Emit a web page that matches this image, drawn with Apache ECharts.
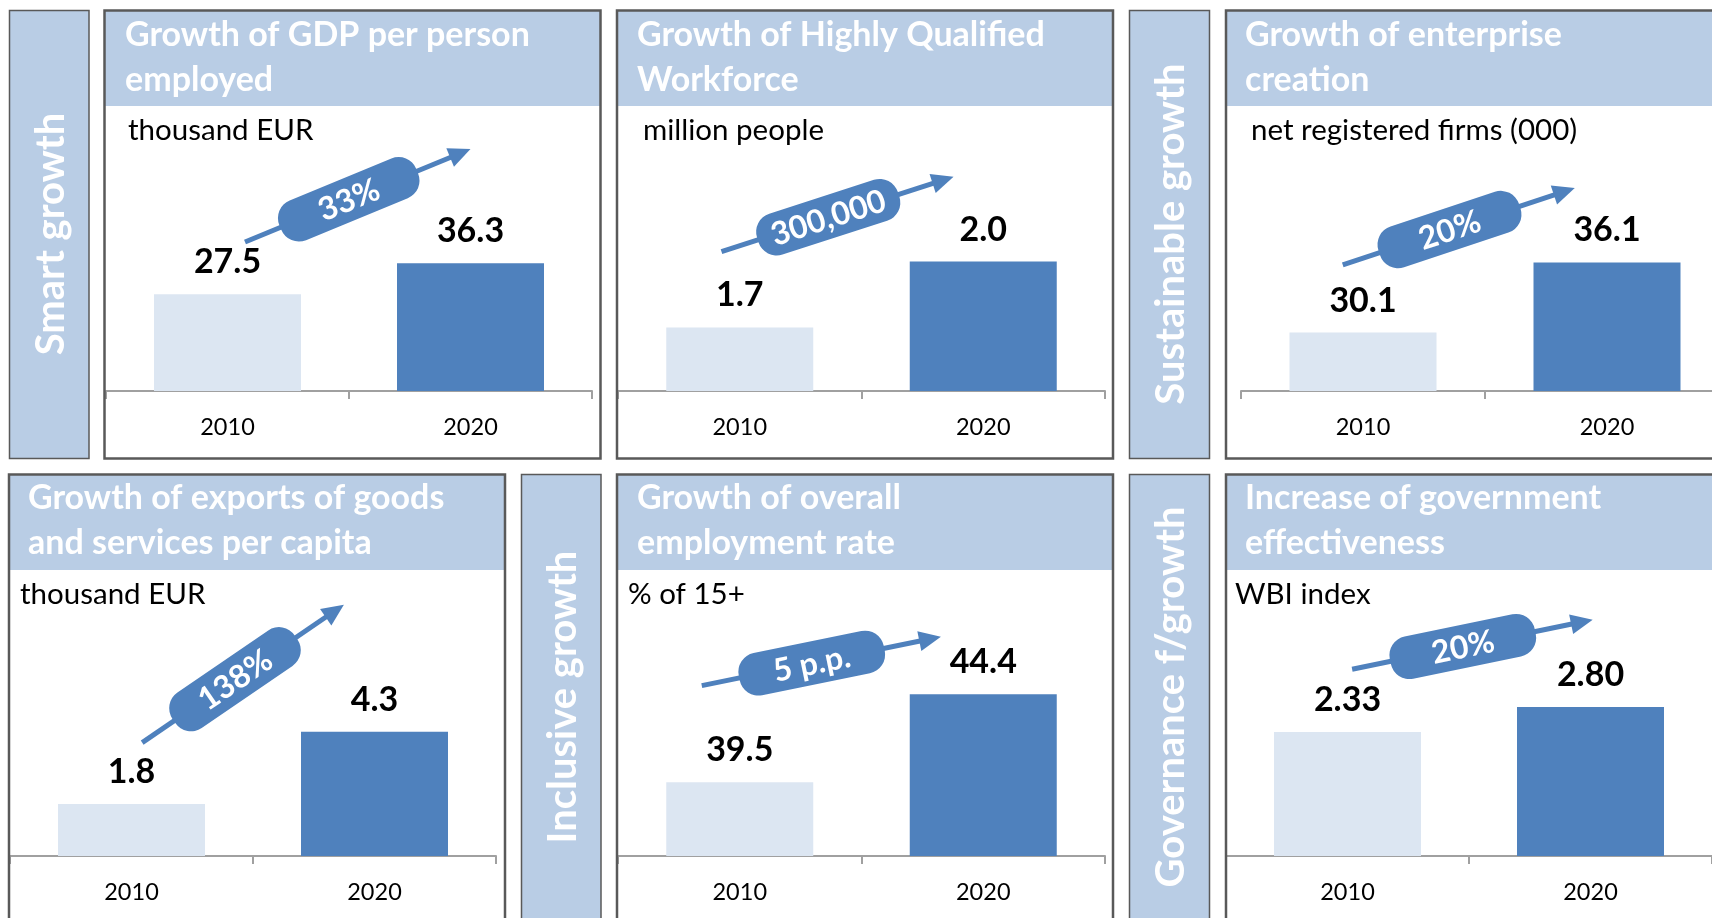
<!DOCTYPE html>
<html>
<head>
<meta charset="utf-8">
<script src="https://cdn.jsdelivr.net/npm/echarts@6/dist/echarts.min.js"></script>
<style>
  html, body { margin: 0; padding: 0; background: #ffffff; overflow: hidden; }
  #chart { width: 1732px; height: 918px; }
</style>
</head>
<body>
<div id="chart"></div>
<script>
// ---------------- data ----------------
const categories = ['2010', '2020'];
const pillars = ['Smart growth', 'Sustainable growth', 'Inclusive growth', 'Governance f/growth'];
const titles = [
  'Growth of GDP per person\nemployed',
  'Growth of Highly Qualified\nWorkforce',
  'Growth of enterprise\ncreation',
  'Growth of exports of goods\nand services per capita',
  'Growth of overall\nemployment rate',
  'Increase of government\neffectiveness'
];
const units = ['thousand EUR', 'million people', 'net registered firms (000)', 'thousand EUR', '% of 15+', 'WBI index'];
const values2010 = [27.5, 1.7, 30.1, 1.8, 39.5, 2.33];
const values2020 = [36.3, 2.0, 36.1, 4.3, 44.4, 2.80];
const decimals = [1, 1, 1, 1, 1, 2];
const growthLabels = ['33%', '300,000', '20%', '138%', '5 p.p.', '20%'];

// ---------------- layout ----------------
const FONT = 'Lato, "Open Sans", sans-serif';
const BAND = '#B9CDE5';
const BORDER = '#595959';
const LIGHT = '#DCE6F2';
const DARK = '#4F81BD';
const AXIS = '#A0A0A0';

const rows = [
  { boxTop: 10.5, boxH: 448, bandBottom: 106, titleY: 13, unitY: 130, gridTop: 141, gridH: 250, sideCY: 234 },
  { boxTop: 474.5, boxH: 470, bandBottom: 570, titleY: 476, unitY: 594, gridTop: 590, gridH: 266, sideCY: 697 }
];
const panelLayout = [
  { row: 0, x: 104.5, w: 496, gridX: 106, gridW: 486, titleX: 125, unitX: 128, yRange: [0, 71], arrow: [0.072, 42.3, 1.0, 68.7] },
  { row: 0, x: 617, w: 496, gridX: 618, gridW: 487, titleX: 637, unitX: 643, yRange: [1.41, 2.55], arrow: [-0.075, 2.045, 0.878, 2.387] },
  { row: 0, x: 1226, w: 520, gridX: 1241, gridW: 488, titleX: 1245, unitX: 1251, yRange: [25.1, 46.5], arrow: [-0.083, 35.89, 0.868, 42.48] },
  { row: 1, x: 9, w: 496, gridX: 10, gridW: 486, titleX: 28, unitX: 20, yRange: [0, 9.2], arrow: [0.044, 3.92, 0.874, 8.69] },
  { row: 1, x: 617, w: 496, gridX: 618, gridW: 487, titleX: 637, unitX: 628, yRange: [35.4, 50.2], arrow: [-0.156, 44.88, 0.826, 47.6] },
  { row: 1, x: 1226, w: 520, gridX: 1226, gridW: 486, titleX: 1245, unitX: 1235, yRange: [0, 5.0], arrow: [0.019, 3.51, 1.009, 4.44] }
];
const sideLayout = [
  { row: 0, x: 9.5, w: 79.5 },
  { row: 0, x: 1129.5, w: 80 },
  { row: 1, x: 521.5, w: 79.5 },
  { row: 1, x: 1129.5, w: 80 }
];

// ---------------- build option ----------------
const grid = [], xAxis = [], yAxis = [], series = [], graphic = [];

panelLayout.forEach((p, i) => {
  const r = rows[p.row];
  graphic.push({ type: 'rect', z: 0, shape: { x: p.x, y: r.boxTop, width: p.w, height: r.bandBottom - r.boxTop }, style: { fill: BAND } });
  graphic.push({ type: 'rect', z: 1, shape: { x: p.x, y: r.boxTop, width: p.w, height: r.boxH }, style: { fill: 'none', stroke: BORDER, lineWidth: 2.5 } });
  graphic.push({ type: 'text', z: 2, x: p.titleX, y: r.titleY, style: { text: titles[i], fill: '#ffffff', font: 'bold 34px ' + FONT, lineHeight: 45, align: 'left', verticalAlign: 'top' } });
  graphic.push({ type: 'text', z: 2, x: p.unitX, y: r.unitY, style: { text: units[i], fill: '#000000', font: '29.5px ' + FONT, align: 'left', verticalAlign: 'middle' } });

  grid.push({ left: p.gridX, width: p.gridW, top: r.gridTop, height: r.gridH, containLabel: false });
  xAxis.push({
    type: 'category', gridIndex: i, data: categories,
    axisLine: { lineStyle: { color: AXIS, width: 2 } },
    axisTick: { show: true, length: 8, lineStyle: { color: AXIS, width: 2 } },
    axisLabel: { color: '#000', fontSize: 23.5, fontFamily: FONT, margin: 24 },
    splitLine: { show: false }
  });
  xAxis.push({ type: 'value', gridIndex: i, min: -0.5, max: 1.5, show: false, splitLine: { show: false } });
  yAxis.push({ type: 'value', gridIndex: i, min: p.yRange[0], max: p.yRange[1], show: false, splitLine: { show: false } });

  series.push({
    type: 'bar', xAxisIndex: 2 * i, yAxisIndex: i, barWidth: 147, z: 2,
    data: [
      { value: values2010[i], itemStyle: { color: LIGHT } },
      { value: values2020[i], itemStyle: { color: DARK } }
    ],
    label: {
      show: true, position: 'top', distance: 15, color: '#000', fontSize: 34, fontWeight: 'bold', fontFamily: FONT,
      formatter: (d) => d.value.toFixed(decimals[i])
    },
    silent: true, animation: false
  });

  series.push({
    type: 'custom', xAxisIndex: 2 * i + 1, yAxisIndex: i, z: 5, clip: false, silent: true, animation: false,
    data: [p.arrow],
    renderItem: (params, api) => {
      const p0 = api.coord([api.value(0), api.value(1)]);
      const p1 = api.coord([api.value(2), api.value(3)]);
      const dx = p1[0] - p0[0], dy = p1[1] - p0[1];
      const D = Math.hypot(dx, dy);
      const ang = Math.atan2(-dy, dx);
      const headLen = 22, headW = 20, L = 148, T = 43;
      const c = 0.46 * D;
      return {
        type: 'group', x: p0[0], y: p0[1], rotation: ang,
        children: [
          { type: 'line', shape: { x1: 0, y1: 0, x2: D - headLen + 2, y2: 0 }, style: { stroke: DARK, lineWidth: 5 } },
          { type: 'polygon', shape: { points: [[D, 0], [D - headLen, -headW / 2], [D - headLen, headW / 2]] }, style: { fill: DARK } },
          { type: 'rect', shape: { x: c - L / 2, y: -T / 2, width: L, height: T, r: 19 }, style: { fill: DARK } },
          { type: 'text', x: c, y: 1, style: { text: growthLabels[i], fill: '#ffffff', font: 'bold 32px ' + FONT, align: 'center', verticalAlign: 'middle' } }
        ]
      };
    }
  });
});

sideLayout.forEach((s, k) => {
  const r = rows[s.row];
  graphic.push({ type: 'rect', z: 0, shape: { x: s.x, y: r.boxTop, width: s.w, height: r.boxH }, style: { fill: BAND, stroke: BORDER, lineWidth: 1.5 } });
  graphic.push({ type: 'text', z: 2, x: s.x + s.w / 2 + 2, y: r.sideCY, rotation: Math.PI / 2,
    style: { text: pillars[k], fill: '#ffffff', font: 'bold 40px ' + FONT, align: 'center', verticalAlign: 'middle' } });
});

const chart = echarts.init(document.getElementById('chart'), null, { renderer: 'canvas' });
chart.setOption({
  backgroundColor: '#ffffff',
  animation: false,
  grid, xAxis, yAxis, series, graphic
});
</script>
</body>
</html>
